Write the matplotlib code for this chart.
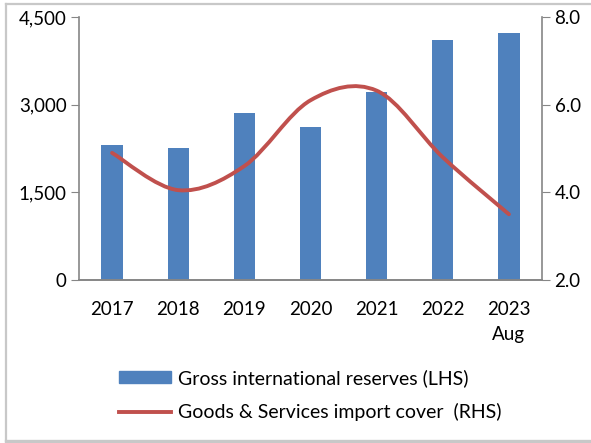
import matplotlib
matplotlib.use('Agg')
import matplotlib.pyplot as plt
from matplotlib.path import Path
from matplotlib.patches import PathPatch
from matplotlib.lines import Line2D

years = ['2017', '2018', '2019', '2020', '2021', '2022', '2023\nAug']
reserves = [2310, 2260, 2850, 2610, 3220, 4100, 4220]
import_cover = [4.9, 4.05, 4.6, 6.1, 6.32, 4.8, 3.5]

plt.rcParams['font.family'] = ['Lato', 'DejaVu Sans']

bar_color = '#4f81bd'
line_color = '#c0504d'
axis_color = '#868686'

fig = plt.figure(figsize=(5.91, 4.43), dpi=100)
ax = fig.add_axes([79 / 591, 1 - 280 / 443, (542 - 79) / 591, (280 - 17) / 443])
ax2 = ax.twinx()

x = list(range(len(years)))
ax.bar(x, reserves, width=0.32, color=bar_color, zorder=2)
ax.set_xlim(-0.5, len(years) - 0.5)
ax.set_ylim(0, 4500)
ax.set_yticks([0, 1500, 3000, 4500])
ax.set_yticklabels(['0', '1,500', '3,000', '4,500'])
ax.set_xticks(x)
ax.set_xticklabels(years, linespacing=1.55)
ax.tick_params(axis='x', length=0, pad=15, labelsize=13.5)
ax.tick_params(axis='y', length=6, color=axis_color, labelsize=13.5, pad=3)

# smoothed line like Excel (Catmull-Rom bezier through the points)
pts = list(zip(x, import_cover))
verts = [pts[0]]
codes = [Path.MOVETO]
n = len(pts)
for i in range(n - 1):
    p0 = pts[max(i - 1, 0)]
    p1 = pts[i]
    p2 = pts[i + 1]
    p3 = pts[min(i + 2, n - 1)]
    c1 = (p1[0] + (p2[0] - p0[0]) / 6, p1[1] + (p2[1] - p0[1]) / 6)
    c2 = (p2[0] - (p3[0] - p1[0]) / 6, p2[1] - (p3[1] - p1[1]) / 6)
    verts += [c1, c2, p2]
    codes += [Path.CURVE4] * 3
ax2.add_patch(PathPatch(Path(verts, codes), facecolor='none', edgecolor=line_color,
                        lw=2.8, capstyle='round', zorder=3))
ax2.set_ylim(2.0, 8.0)
ax2.set_yticks([2.0, 4.0, 6.0, 8.0])
ax2.set_yticklabels(['2.0', '4.0', '6.0', '8.0'])
ax2.tick_params(axis='y', length=6, color=axis_color, labelsize=13.5, pad=3)

for a in (ax, ax2):
    a.spines['top'].set_visible(False)
    for s in ('left', 'right', 'bottom'):
        a.spines[s].set_color(axis_color)
        a.spines[s].set_linewidth(1.2)
ax.spines['right'].set_visible(False)
ax2.spines['left'].set_visible(False)

handles = [plt.Rectangle((0, 0), 1, 1, color=bar_color),
           Line2D([0], [0], color=line_color, lw=2.8)]
labels = ['Gross international reserves (LHS)', 'Goods & Services import cover  (RHS)']
fig.legend(handles, labels, loc='center', bbox_to_anchor=(310 / 591, 1 - 395 / 443),
           frameon=False, fontsize=14, handlelength=2.7, handleheight=0.6,
           handletextpad=0.35, labelspacing=0.85)

# chart area border (top, left, bottom)
bc = '#c8c8c8'
fig.add_artist(Line2D([6 / 591, 1], [1 - 4 / 443, 1 - 4 / 443], color=bc, lw=1.6))
fig.add_artist(Line2D([6 / 591, 6 / 591], [1 - 441 / 443, 1 - 4 / 443], color=bc, lw=1.6))
fig.add_artist(Line2D([6 / 591, 1], [1 - 441 / 443, 1 - 441 / 443], color=bc, lw=2.4))

fig.savefig('out.png', dpi=100)
